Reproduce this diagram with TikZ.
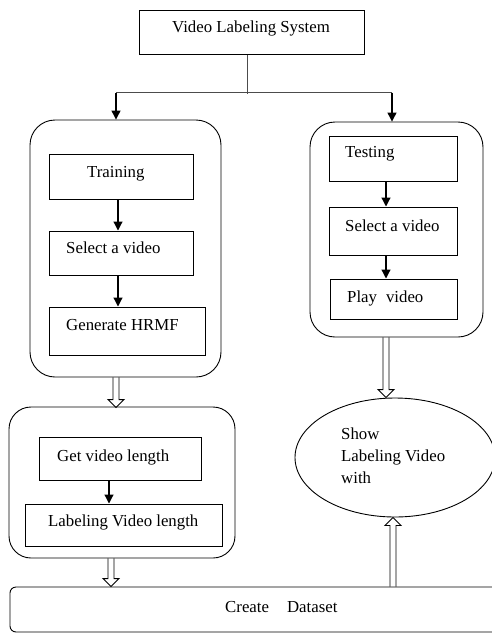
\documentclass[tikz,border=0pt]{standalone}
\usepackage{fontspec}
\setmainfont{Liberation Serif}
\usetikzlibrary{arrows.meta,calc,shapes.geometric}

\tikzset{
  box/.style={draw, line width=1pt, inner sep=0pt},
  frame/.style={draw, line width=0.9pt, rounded corners=25pt, inner sep=0pt},
  lbl/.style={anchor=west, inner sep=0pt, font=\fontsize{16.8}{21}\selectfont},
  arr/.style={line width=1.2pt, -{Triangle[length=9pt,width=9pt]}},
  link/.style={line width=0.9pt, draw=black!70},
  hollow/.style={line width=0.9pt, line join=miter}
}

% open double-shaft arrow from #1 (tail) to #2 (tip); #3 = +1 downward, -1 upward
\newcommand{\hollowarrow}[3]{%
  \draw[hollow] ($(#1)+(-3,0)$) -- ($(#2)+(-3,-8*#3)$) -- ($(#2)+(-8,-8*#3)$)
    -- (#2) -- ($(#2)+(8,-8*#3)$) -- ($(#2)+(3,-8*#3)$) -- ($(#1)+(3,0)$);}

\begin{document}
\begin{tikzpicture}[x=1pt, y=-1pt]
\useasboundingbox (0,0) rectangle (492,633);

% top title box
\node[box, minimum width=225pt, minimum height=44pt] (top) at (251.5,32) {};
\node[lbl] (ttop) at (172,28) {Video Labeling System};

% training branch
\node[frame, minimum width=191pt, minimum height=257pt] (lc) at (125.5,248.5) {};
\node[box, minimum width=144pt, minimum height=45pt] (train) at (121,176.5) {};
\node[lbl] (ttrain) at (87,174) {Training};
\node[box, minimum width=144pt, minimum height=44pt] (sel1) at (121,253) {};
\node[lbl] (tsel1) at (66,248) {Select a video};
\node[box, minimum width=156pt, minimum height=48pt] (hrmf) at (127,331) {};
\node[lbl] (thrmf) at (66,325) {Generate HRMF};

% labeling block
\node[frame, rounded corners=22pt, minimum width=226pt, minimum height=151pt] (lc2) at (122,482.5) {};
\node[box, minimum width=162pt, minimum height=43pt] (getlen) at (120,458.5) {};
\node[lbl] (tgetlen) at (57,457) {Get video length};
\node[box, minimum width=197pt, minimum height=42pt] (lablen) at (123.5,525) {};
\node[lbl] (tlablen) at (48,522) {Labeling Video length};

% testing branch
\node[frame, minimum width=173pt, minimum height=215pt] (rc) at (396.5,229.5) {};
\node[box, minimum width=128pt, minimum height=45pt] (test) at (393,158.5) {};
\node[lbl] (ttest) at (345,154) {Testing};
\node[box, minimum width=128pt, minimum height=48pt] (sel2) at (393,231) {};
\node[lbl] (tsel2) at (345,226) {Select a video};
\node[box, minimum width=127pt, minimum height=40pt] (play) at (393.5,299) {};
\node[lbl] (tplay) at (347,298) {Play\hspace{9pt}video};

% result ellipse
\node[draw, ellipse, line width=0.9pt, inner sep=0pt, minimum width=200pt, minimum height=119pt] (ell) at (395,457.5) {};
\node[lbl, align=left, font=\fontsize{16.8}{22}\selectfont] (tell) at (341,456) {Show\\Labeling Video\\with};

% dataset bar
\node[box, line width=0.9pt, rounded corners=6pt, minimum width=495pt, minimum height=45pt] (ds) at (257.5,609.5) {};
\node[lbl] (tds) at (225,607) {Create\hspace{18pt}Dataset};

% split from the title box
\coordinate (jn) at ($(top.south)+(-4.5,39)$);
\coordinate (jl) at ($(lc.north)+(-9.5,-27)$);
\coordinate (jr) at ($(rc.north)+(-4.5,-29)$);
\draw[link] (top.south -| jn) -- (jn);
\draw[link] (jl) -- (jr);
\draw[arr] (jl) -- (jl |- lc.north);
\draw[arr] (jr) -- (jr |- rc.north);

% solid step arrows
\draw[arr] ($(train.south)+(-3,0)$) -- ($(sel1.north)+(-3,0)$);
\draw[arr] ($(sel1.south)+(-3,0)$) -- ($(hrmf.north)+(-9,0)$);
\draw[arr] ($(getlen.south)+(-11,0)$) -- ($(lablen.north)+(-14.5,0)$);
\draw[arr] ($(test.south)+(-7,0)$) -- ($(sel2.north)+(-7,0)$);
\draw[arr] ($(sel2.south)+(-7,0)$) -- ($(play.north)+(-7.5,0)$);

% open double-shaft arrows
\coordinate (h1a) at ($(lc.south)+(-9.5,0)$);
\coordinate (h1b) at ($(lc2.north)+(-6,1)$);
\hollowarrow{h1a}{h1b}{1}
\coordinate (h2a) at ($(lc2.south)+(-11,0)$);
\coordinate (h2b) at ($(ds.north)+(-146.5,0)$);
\hollowarrow{h2a}{h2b}{1}
\coordinate (h3a) at ($(rc.south)+(-10.5,0)$);
\coordinate (h3b) at ($(ell.north)+(-9,0)$);
\hollowarrow{h3a}{h3b}{1}
\coordinate (h4a) at ($(ds.north)+(135.5,0)$);
\coordinate (h4b) at ($(ell.south)+(-2,0)$);
\hollowarrow{h4a}{h4b}{-1}
\end{tikzpicture}
\end{document}
